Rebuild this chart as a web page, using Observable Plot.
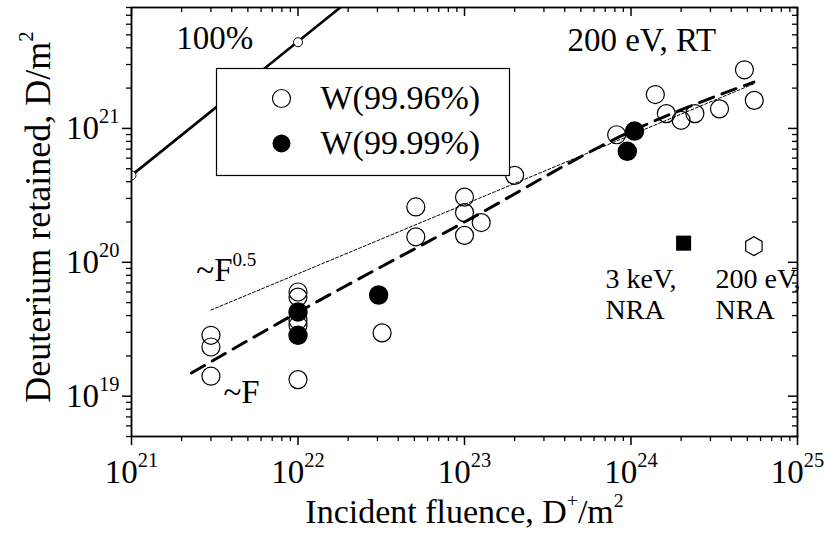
<!DOCTYPE html>
<html><head><meta charset="utf-8">
<script src="https://cdn.jsdelivr.net/npm/d3@7"></script>
<script src="https://cdn.jsdelivr.net/npm/@observablehq/plot@0.6"></script>
<style>
html,body{margin:0;padding:0;background:#fff;}
#chart{width:829px;height:537px;}
</style></head><body><div id="chart"></div>
<script>
// ---- data ----
const w9996Fluence  = [3e21, 3e21, 3e21, 1e22, 1e22, 1e22, 1e22, 1e22, 3.2e22, 5.1e22, 5.1e22, 1e23, 1e23, 1e23, 1.26e23, 2e23, 8.2e23, 1.4e24, 1.63e24, 2e24, 2.42e24, 3.4e24, 4.8e24, 5.5e24];
const w9996Retained = [2.85e19, 2.33e19, 1.41e19, 6.0e19, 5.5e19, 3.69e19, 3.39e19, 1.33e19, 2.97e19, 2.59e20, 1.55e20, 3.07e20, 2.35e20, 1.59e20, 1.98e20, 4.46e20, 8.97e20, 1.79e21, 1.29e21, 1.15e21, 1.29e21, 1.40e21, 2.74e21, 1.62e21];
const w9999Fluence  = [1e22, 1e22, 3.05e22, 9.5e23, 1.05e24];
const w9999Retained = [4.26e19, 2.85e19, 5.7e19, 6.74e20, 9.55e20];
const nra3keVFluence = [2.07e24];
const nra3keVRetained = [1.39e20];
const nra200eVFluence = [5.47e24];
const nra200eVRetained = [1.32e20];
const full100Fluence = [1e21, 3e22];
const full100Retained = [4.46e20, 1.338e22];
const full100PointFluence = [1e21, 1e22];
const full100PointRetained = [4.46e20, 4.4e21];
const fitSqrtFluence = [3e21, 5.5e24];
const fitSqrtRetained = [4.4e19, 2.16e21];
const fitLinFluence = [2.29e21, 1e22, 1e23, 1e24, 5.47e24];
const fitLinRetained = [1.49e19, 4.24e19, 2.0e20, 9.5e20, 2.22e21];
const legendLabels = ["W(99.96%)", "W(99.99%)"];
const majorX = [1e21, 1e22, 1e23, 1e24, 1e25];
const majorY = [1e19, 1e20, 1e21];

// ---- helpers ----
const pts = (xs, ys) => xs.map((x, i) => ({x, y: ys[i]}));
const minorX = [];
for (let e = 21; e < 25; e++) for (let m = 2; m <= 9; m++) minorX.push(m * Math.pow(10, e));
const minorY = [];
for (let e = 18; e <= 21; e++) for (let m = 2; m <= 9; m++) { const v = m * Math.pow(10, e); if (v >= 5e18 && v <= 8.01e21) minorY.push(v); }
const sup = d => `10^{${Math.round(Math.log10(d))}}`;
const font = "'Liberation Serif', 'Times New Roman', Times, serif";

const annotationsBig = [
  {x: 1.86e21, y: 3.95e21, t: "100%"},
  {x: 4.16e23, y: 3.76e21, t: "200 eV, RT"},
  {x: 2.45e21, y: 7.3e19, t: "~F^{0.5}"},
  {x: 3.57e21, y: 8.9e18, t: "~F"}
];
const annotationsSmall = [
  {x: 7.03e23, y: 3.78e19, t: "3 keV,\nNRA"},
  {x: 3.22e24, y: 3.78e19, t: "200 eV,\nNRA"}
];

const svg = Plot.plot({
  width: 829, height: 537,
  marginLeft: 131, marginRight: 32, marginTop: 7, marginBottom: 101,
  style: {fontFamily: font, fontSize: "33px", color: "#000", background: "#fff"},
  x: {type: "log", domain: [1e21, 1e25], label: null},
  y: {type: "log", domain: [5e18, 8e21], label: null},
  marks: [
    Plot.line(pts(full100Fluence, full100Retained), {x: "x", y: "y", stroke: "black", strokeWidth: 2.6, clip: true}),
    Plot.line(pts(fitSqrtFluence, fitSqrtRetained), {x: "x", y: "y", stroke: "black", strokeWidth: 1, strokeDasharray: "3,2"}),
    Plot.line(pts(fitLinFluence, fitLinRetained), {x: "x", y: "y", stroke: "black", strokeWidth: 3, strokeDasharray: "15,9", curve: "monotone-x"}),
    Plot.dot(pts(full100PointFluence, full100PointRetained), {x: "x", y: "y", r: 4.5, fill: "white", stroke: "black", strokeWidth: 1, clip: true}),
    Plot.dot(pts(w9996Fluence, w9996Retained), {x: "x", y: "y", r: 9, fill: "none", stroke: "black", strokeWidth: 1.2}),
    Plot.dot(pts(w9999Fluence, w9999Retained), {x: "x", y: "y", r: 9, fill: "black", stroke: "black"}),
    Plot.dot(pts(nra3keVFluence, nra3keVRetained), {x: "x", y: "y", symbol: "square", r: 8.5, fill: "black"}),
    Plot.dot(pts(nra200eVFluence, nra200eVRetained), {x: "x", y: "y", symbol: "hexagon", r: 8.2, fill: "white", stroke: "black", strokeWidth: 1.2}),
    // legend
    Plot.frame({insetLeft: 85, insetTop: 61, insetRight: 288, insetBottom: 261, fill: "white", stroke: "black", strokeWidth: 1.2}),
    Plot.dot([legendLabels[0]], {frameAnchor: "top-left", dx: 150, dy: 91, r: 9, fill: "none", stroke: "black", strokeWidth: 1.2}),
    Plot.dot([legendLabels[1]], {frameAnchor: "top-left", dx: 150, dy: 136, r: 9, fill: "black"}),
    Plot.text([legendLabels[0]], {frameAnchor: "top-left", dx: 189, dy: 91, textAnchor: "start", lineAnchor: "middle", fontSize: 34}),
    Plot.text([legendLabels[1]], {frameAnchor: "top-left", dx: 189, dy: 136, textAnchor: "start", lineAnchor: "middle", fontSize: 34}),
    // annotations
    Plot.text(annotationsBig, {x: "x", y: "y", text: "t", textAnchor: "start", lineAnchor: "bottom", fontSize: 33}),
    Plot.text(annotationsSmall, {x: "x", y: "y", text: "t", textAnchor: "start", lineAnchor: "bottom", fontSize: 28, lineHeight: 1.12}),
    // axis titles
    Plot.text(["Incident fluence, D^{+}/m^{2}"], {frameAnchor: "bottom", dy: 86, lineAnchor: "bottom", textAnchor: "middle", fontSize: 34}),
    Plot.text(["Deuterium retained, D/m^{2}"], {frameAnchor: "left", dx: -82, dy: -5, rotate: -90, lineAnchor: "bottom", textAnchor: "middle", fontSize: 36}),
    // axes
    Plot.axisX({ticks: majorX, tickSize: 9, tickPadding: 14, tickFormat: sup, label: null, strokeWidth: 1.5}),
    Plot.axisX({ticks: minorX, tickSize: 5, tickFormat: () => "", label: null, strokeWidth: 1.3}),
    Plot.axisY({ticks: majorY, tickSize: 9, tickPadding: 3, tickFormat: sup, label: null, strokeWidth: 1.5}),
    Plot.axisY({ticks: minorY, tickSize: 5, tickFormat: () => "", label: null, strokeWidth: 1.3}),
    Plot.tickX(majorX, {insetBottom: 420, stroke: "black", strokeWidth: 1.5}),
    Plot.tickX(minorX, {insetBottom: 424, stroke: "black", strokeWidth: 1.3}),
    Plot.tickY(majorY, {insetLeft: 657, stroke: "black", strokeWidth: 1.5}),
    Plot.tickY(minorY, {insetLeft: 661, stroke: "black", strokeWidth: 1.3}),
    Plot.frame({stroke: "black", strokeWidth: 1.8})
  ]
});

// turn "^{..}" into raised tspans (size = superscript scale, raise = shift in parent ems)
function supify(root, size, raise, filter) {
  const ns = "http://www.w3.org/2000/svg";
  root.querySelectorAll("text, tspan").forEach(el => {
    if (el.children.length) return;
    const s = el.textContent;
    if (!s.includes("^{")) return;
    if (filter && !filter(el)) return;
    el.textContent = "";
    const re = /\^\{([^}]*)\}/g;
    let last = 0, m, shifted = false;
    const add = (txt, isSup) => {
      const ts = document.createElementNS(ns, "tspan");
      ts.textContent = txt;
      if (isSup) { ts.setAttribute("font-size", (size * 100) + "%"); ts.setAttribute("dy", (-raise / size).toFixed(3) + "em"); }
      else if (shifted) ts.setAttribute("dy", raise + "em");
      shifted = isSup;
      el.appendChild(ts);
    };
    while ((m = re.exec(s))) {
      if (m.index > last) add(s.slice(last, m.index), false);
      add(m[1], true);
      last = re.lastIndex;
    }
    if (last < s.length) add(s.slice(last), false);
  });
}
document.getElementById("chart").appendChild(svg);
const isTick = el => /^10\^\{/.test(el.textContent);
supify(svg, 0.62, 0.48, isTick);
supify(svg, 0.58, 0.45, null);
</script>
</body></html>
